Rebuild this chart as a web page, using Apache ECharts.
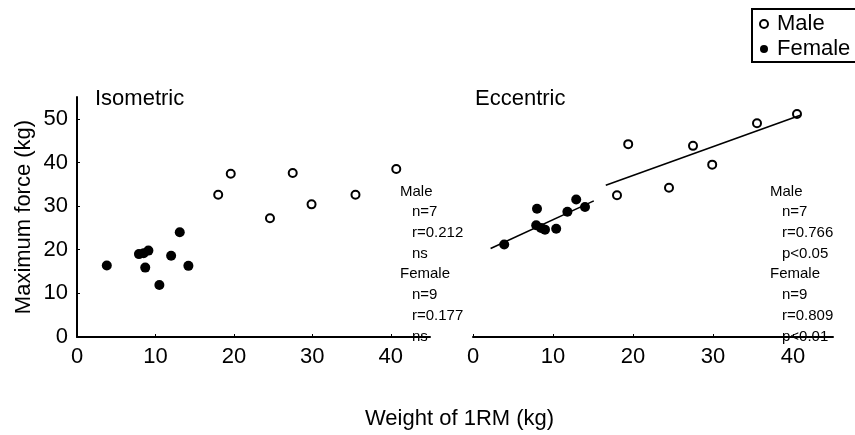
<!DOCTYPE html>
<html>
<head>
<meta charset="utf-8">
<script src="https://cdn.jsdelivr.net/npm/echarts@6/dist/echarts.min.js"></script>
<style>
html, body { margin: 0; padding: 0; background: #fff; }
#chart { width: 855px; height: 435px; }
</style>
</head>
<body>
<div id="chart"></div>
<script>
// data
var isoMale = [[18.0, 32.6], [19.6, 37.4], [24.6, 27.2], [27.5, 37.6], [29.9, 30.4], [35.5, 32.6], [40.7, 38.5]];
var isoFemale = [[3.8, 16.4], [7.9, 19.0], [8.5, 19.2], [9.1, 19.8], [8.7, 15.9], [10.5, 11.9], [12.0, 18.6], [13.1, 24.0], [14.2, 16.3]];
var eccMale = [[18.0, 32.5], [19.4, 44.2], [24.5, 34.2], [27.5, 43.8], [29.9, 39.5], [35.5, 49.0], [40.5, 51.1]];
var eccFemale = [[3.9, 21.2], [8.0, 29.4], [7.9, 25.6], [8.5, 25.0], [9.0, 24.6], [10.4, 24.8], [11.8, 28.7], [12.9, 31.5], [14.0, 29.8]];
var eccMaleFit = [[16.6, 34.8], [41.0, 50.9]];
var eccFemaleFit = [[2.2, 20.3], [15.1, 31.2]];
var isoStats = ['Male', 'n=7', 'r=0.212', 'ns', 'Female', 'n=9', 'r=0.177', 'ns'];
var eccStats = ['Male', 'n=7', 'r=0.766', 'p<0.05', 'Female', 'n=9', 'r=0.809', 'p<0.01'];

var font = '"Liberation Sans", Arial, Helvetica, sans-serif';

function statsText(lines, x) {
    var out = [];
    for (var i = 0; i < lines.length; i++) {
        var head = (lines[i] === 'Male' || lines[i] === 'Female');
        out.push({
            type: 'text',
            left: head ? x : x + 12,
            top: 184 + i * 20.7,
            style: { text: lines[i], fontSize: 15, fontFamily: font, fill: '#000' }
        });
    }
    return out;
}

function xAxisOpt(idx) {
    return {
        gridIndex: idx, type: 'value', min: 0, max: 45, interval: 10,
        axisLine: { show: true, lineStyle: { color: '#000', width: 2 } },
        axisTick: { show: true, inside: true, length: 3, lineStyle: { color: '#000' } },
        axisLabel: {
            color: '#000', fontSize: 22, fontFamily: font, margin: 9, showMaxLabel: false,
            formatter: function (v) { return v % 10 === 0 ? v : ''; }
        },
        splitLine: { show: false }
    };
}

var myChart = echarts.init(document.getElementById('chart'));

var option = {
    animation: false,
    backgroundColor: '#fff',
    textStyle: { fontFamily: font },
    title: [
        { text: 'Isometric', left: 95, top: 88, padding: 0, textStyle: { fontSize: 22, fontWeight: 'normal', color: '#000', fontFamily: font } },
        { text: 'Eccentric', left: 475, top: 88, padding: 0, textStyle: { fontSize: 22, fontWeight: 'normal', color: '#000', fontFamily: font } },
        { text: 'Weight of 1RM (kg)', left: 365, top: 408, padding: 0, textStyle: { fontSize: 22, fontWeight: 'normal', color: '#000', fontFamily: font } }
    ],
    legend: {
        orient: 'vertical', left: 759, top: 13,
        padding: 0, itemGap: 3, itemWidth: 8, itemHeight: 8,
        textStyle: { fontSize: 22, color: '#000', fontFamily: font, padding: [0, 0, 0, 4] },
        data: [
            { name: 'Male', icon: 'circle', itemStyle: { color: '#fff', borderColor: '#000', borderWidth: 2 } },
            { name: 'Female', icon: 'circle', itemStyle: { color: '#000', borderWidth: 0 } }
        ]
    },
    grid: [
        { left: 77, top: 97, width: 353, height: 240 },
        { left: 473, top: 97, width: 360, height: 240 }
    ],
    xAxis: [xAxisOpt(0), xAxisOpt(1)],
    yAxis: [
        {
            gridIndex: 0, type: 'value', min: 0, max: 55, interval: 10,
            name: 'Maximum force (kg)', nameLocation: 'middle', nameGap: 42,
            nameTextStyle: { fontSize: 22, color: '#000', fontFamily: font },
            axisLine: { show: true, lineStyle: { color: '#000', width: 2 } },
            axisTick: { show: true, inside: true, length: 3, lineStyle: { color: '#000' } },
            axisLabel: { color: '#000', fontSize: 22, fontFamily: font, margin: 9, showMaxLabel: false },
            splitLine: { show: false }
        },
        { gridIndex: 1, type: 'value', min: 0, max: 55, show: false, splitLine: { show: false } }
    ],
    series: [
        { name: 'Male', type: 'scatter', xAxisIndex: 0, yAxisIndex: 0, data: isoMale, symbol: 'circle', symbolSize: 8,
          itemStyle: { color: '#fff', borderColor: '#000', borderWidth: 2, opacity: 1 } },
        { name: 'Female', type: 'scatter', xAxisIndex: 0, yAxisIndex: 0, data: isoFemale, symbol: 'circle', symbolSize: 10,
          itemStyle: { color: '#000', opacity: 1 } },
        { name: 'Male', type: 'scatter', xAxisIndex: 1, yAxisIndex: 1, data: eccMale, symbol: 'circle', symbolSize: 8,
          itemStyle: { color: '#fff', borderColor: '#000', borderWidth: 2, opacity: 1 } },
        { name: 'Female', type: 'scatter', xAxisIndex: 1, yAxisIndex: 1, data: eccFemale, symbol: 'circle', symbolSize: 10,
          itemStyle: { color: '#000', opacity: 1 } },
        { name: 'maleFit', type: 'line', xAxisIndex: 1, yAxisIndex: 1, data: eccMaleFit, symbol: 'none', silent: true,
          lineStyle: { color: '#000', width: 1.6 } },
        { name: 'femaleFit', type: 'line', xAxisIndex: 1, yAxisIndex: 1, data: eccFemaleFit, symbol: 'none', silent: true,
          lineStyle: { color: '#000', width: 1.6 } }
    ],
    // legend frame runs off the right edge as in the figure
    graphic: [
        { type: 'rect', shape: { x: 752, y: 9, width: 130, height: 53 },
          style: { fill: 'none', stroke: '#000', lineWidth: 2 } }
    ].concat(statsText(isoStats, 400), statsText(eccStats, 770))
};

myChart.setOption(option);
</script>
</body>
</html>
